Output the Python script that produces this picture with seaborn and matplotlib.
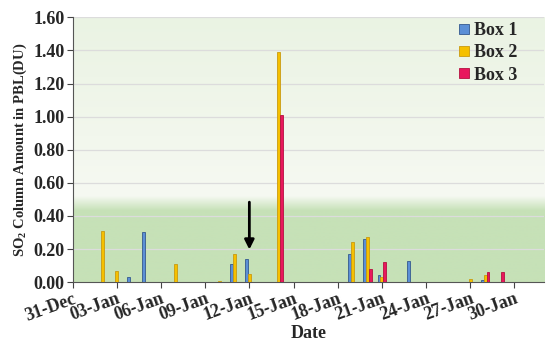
import numpy as np
import pandas as pd
import matplotlib.pyplot as plt
import seaborn as sns
from matplotlib.lines import Line2D

# days counted from 31-Dec (day 0)
box1_days = [4, 5, 11, 12, 19, 20, 21, 23, 28]
box1_vals = [0.03, 0.30, 0.11, 0.14, 0.17, 0.26, 0.04, 0.13, 0.01]
box2_days = [2, 3, 7, 10, 11, 12, 14, 19, 20, 21, 27, 28]
box2_vals = [0.31, 0.07, 0.11, 0.005, 0.17, 0.05, 1.39, 0.24, 0.27, 0.03, 0.02, 0.04]
box3_days = [14, 20, 21, 28, 29]
box3_vals = [1.01, 0.08, 0.12, 0.06, 0.06]

tick_days = [0, 3, 6, 9, 12, 15, 18, 21, 24, 27, 30]
tick_labels = ["31-Dec", "03-Jan", "06-Jan", "09-Jan", "12-Jan", "15-Jan",
               "18-Jan", "21-Jan", "24-Jan", "27-Jan", "30-Jan"]

df = pd.concat([
    pd.DataFrame({"day": box1_days, "value": box1_vals, "box": "Box 1"}),
    pd.DataFrame({"day": box2_days, "value": box2_vals, "box": "Box 2"}),
    pd.DataFrame({"day": box3_days, "value": box3_vals, "box": "Box 3"}),
])

names = ["Box 1", "Box 2", "Box 3"]
colors = {"Box 1": "#5b8fd6", "Box 2": "#f5c000", "Box 3": "#e8175d"}
edges = {"Box 1": "#34598f", "Box 2": "#c99a10", "Box 3": "#b5103f"}

sns.set_style("white")
plt.rcParams["font.family"] = ["Liberation Serif", "DejaVu Serif"]
plt.rcParams["mathtext.fontset"] = "custom"
plt.rcParams["mathtext.rm"] = "Liberation Serif:bold"
plt.rcParams["mathtext.bf"] = "Liberation Serif:bold"

fig = plt.figure(figsize=(5.5, 3.47), dpi=100)
ax = fig.add_axes([0.132, 0.187, 0.857, 0.763])

# background gradient: green band at bottom, pale above
ys = np.linspace(0, 1.6, 400)
col = np.zeros((400, 1, 3))
green = np.array([198, 225, 183]) / 255
pale = np.array([246, 249, 242]) / 255
top = np.array([234, 243, 227]) / 255
for i, y in enumerate(ys):
    if y < 0.43:
        c = green
    elif y < 0.52:
        t = (y - 0.43) / 0.09
        c = green * (1 - t) + pale * t
    else:
        t = (y - 0.52) / 1.08
        c = pale * (1 - t) + top * t
    col[i, 0] = c
ax.imshow(col, extent=[0, 32, 0, 1.6], origin="lower", aspect="auto", zorder=0)

for y in np.arange(0.2, 1.61, 0.2):
    ax.axhline(y, color="#dcdcdc", lw=0.9, zorder=1)

sns.barplot(data=df, x="day", y="value", hue="box", native_scale=True,
            width=0.6, palette=colors, hue_order=names, saturation=1,
            ax=ax, zorder=3, legend=False)
for cont, name in zip(ax.containers, names):
    for p in cont:
        p.set_edgecolor(edges[name])
        p.set_linewidth(0.6)

ax.set_xlim(0, 32)
ax.set_ylim(0, 1.6)
ax.set_xticks(tick_days)
ax.set_xticklabels(tick_labels, rotation=20, ha="right", rotation_mode="anchor",
                   fontsize=13, fontweight="bold")
ax.set_yticks(np.arange(0, 1.61, 0.2))
ax.set_yticklabels([f"{v:.2f}" for v in np.arange(0, 1.61, 0.2)],
                   fontsize=13, fontweight="bold")
ax.tick_params(axis="both", length=4, direction="out", color="#444444",
               bottom=True, left=True, pad=2)
ax.set_xlabel("Date", fontsize=13, fontweight="bold", labelpad=0)
ax.set_ylabel(r"SO$_2$ Column Amount in PBL(DU)", fontsize=10.5,
              fontweight="bold", labelpad=3)

for s in ["top", "right"]:
    ax.spines[s].set_visible(False)
ax.spines["left"].set_color("#555555")
ax.spines["bottom"].set_color("#555555")

ax.annotate("", xy=(12, 0.18), xytext=(12, 0.50),
            arrowprops=dict(arrowstyle="-|>", color="black", lw=2,
                            mutation_scale=14), zorder=5)

handles = [Line2D([], [], marker="s", ls="none", markersize=7,
                  markerfacecolor=colors[n], markeredgecolor=edges[n],
                  markeredgewidth=0.6) for n in names]
ax.legend(handles, names, loc="upper right", frameon=False,
          prop={"weight": "bold", "size": 13}, handlelength=0.6,
          handletextpad=0.3, labelspacing=0.3,
          borderaxespad=0.0, bbox_to_anchor=(0.96, 1.01))

fig.savefig("out.png", dpi=100)
